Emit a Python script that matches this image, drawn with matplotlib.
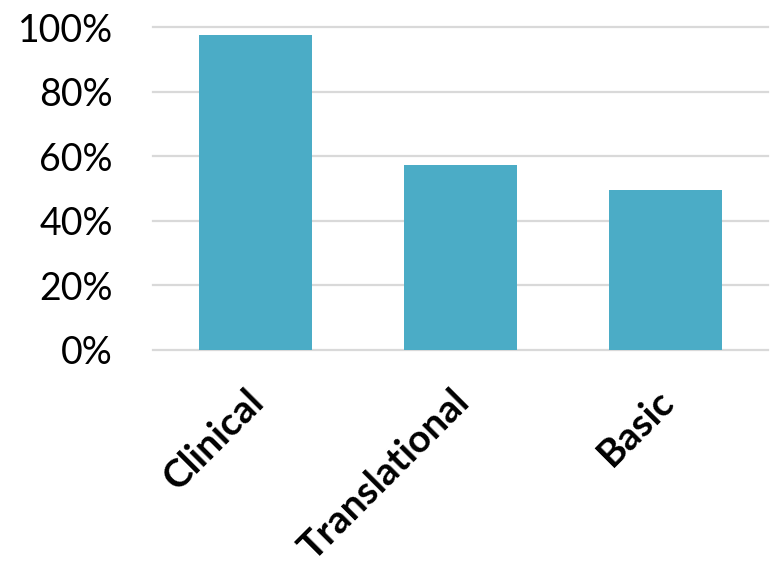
import matplotlib
matplotlib.use("Agg")
import matplotlib.pyplot as plt
from matplotlib.ticker import FuncFormatter
from matplotlib.transforms import ScaledTranslation

categories = ["Clinical", "Translational", "Basic"]
values = [0.975, 0.574, 0.495]
yticks = [0, 0.2, 0.4, 0.6, 0.8, 1.0]

plt.rcParams['font.family'] = ['Lato', 'DejaVu Sans']

fig = plt.figure(figsize=(7.7, 5.7), dpi=100)
ax = fig.add_axes([153/770, 1 - 350/570, 615/770, 323/570])

x = list(range(len(categories)))
ax.bar(x, values, width=0.555, color="#4BACC6", zorder=3)

ax.set_xlim(-0.5, len(categories) - 0.5)
ax.set_ylim(0, 1.0)
ax.set_yticks(yticks)
ax.yaxis.set_major_formatter(FuncFormatter(lambda v, p: f"{round(v*100)}%"))
ax.grid(axis='y', color="#D9D9D9", linewidth=1.6, zorder=0)
for gl in ax.get_ygridlines():
    gl.set_clip_on(False)
for s in ax.spines.values():
    s.set_visible(False)
ax.tick_params(axis='both', length=0)
ax.tick_params(axis='y', labelsize=27, pad=29)
ax.set_xticks(x)
ax.set_xticklabels(categories, rotation=45, ha='right', rotation_mode='anchor',
                   fontsize=28, fontweight='bold')
ax.tick_params(axis='x', pad=24)
offset = ScaledTranslation(-10/100, 0, fig.dpi_scale_trans)
for lbl in ax.get_xticklabels():
    lbl.set_transform(lbl.get_transform() + offset)

fig.savefig("out.png", dpi=100, facecolor="white")
